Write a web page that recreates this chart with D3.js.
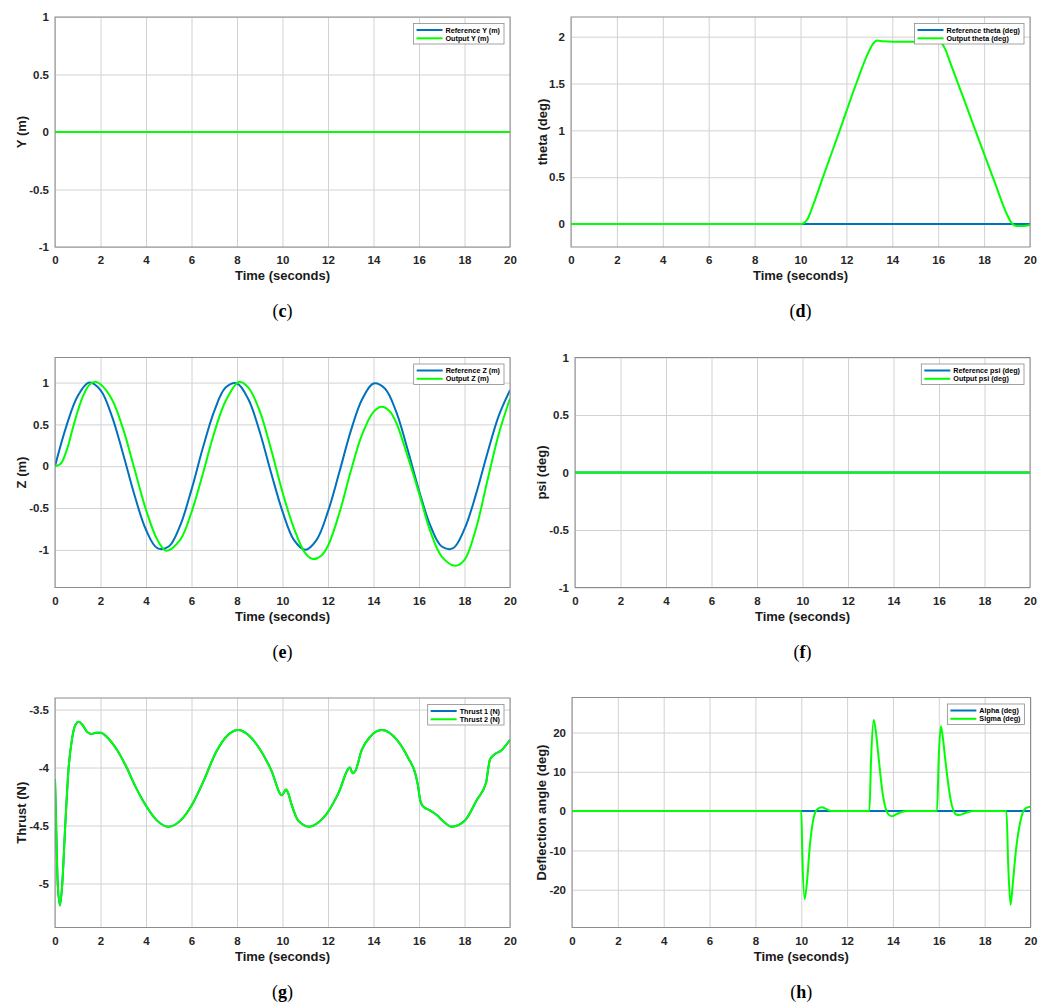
<!DOCTYPE html>
<html><head><meta charset="utf-8">
<script src="https://cdn.jsdelivr.net/npm/d3@7"></script>
<style>
body{margin:0;background:#fff;}
svg{display:block;}
.tick text{font-family:"Liberation Sans",Arial,sans-serif;font-weight:bold;font-size:11.5px;fill:#262626;}
</style></head>
<body>
<svg id="chart" width="1049" height="1005"></svg>
<script>
// ---------------- DATA ----------------
const xTicks = [0,2,4,6,8,10,12,14,16,18,20];

// (c) Y position
const refY_t = [0, 20], refY_v = [0, 0];
const outY_t = [0, 20], outY_v = [0, 0];

// (d) theta
const refTheta_t = [0, 20], refTheta_v = [0, 0];
const outTheta = [[0,0],[10.0,0],[10.1,0.005],[10.3,0.05],[10.5,0.17],[10.98,0.5],[11.71,1.0],[12.43,1.5],[12.9,1.8],[13.15,1.92],[13.35,1.958],[13.6,1.952],[14.5,1.946],[15.5,1.946],[16.0,1.948],[16.15,1.93],[16.3,1.87],[16.5,1.74],[17.5,1.08],[18.5,0.42],[19.0,0.1],[19.2,0.01],[19.4,-0.02],[19.7,-0.02],[20,-0.01]];

// (e) Z
const refZ_t = [0,0.5,1,1.5,2,2.5,3,3.5,4,4.5,5,5.5,6,6.5,7,7.5,8,8.5,9,9.5,10,10.5,11,11.5,12,12.5,13,13.5,14,14.5,15,15.5,16,16.5,17,17.5,18,18.5,19,19.5,20];
const refZ_v = [0,0.48,0.84,1.0,0.91,0.6,0.14,-0.35,-0.76,-0.98,-0.96,-0.71,-0.28,0.22,0.66,0.94,0.99,0.8,0.41,-0.08,-0.54,-0.88,-1.0,-0.88,-0.54,-0.07,0.42,0.8,0.99,0.93,0.65,0.2,-0.29,-0.71,-0.96,-0.98,-0.75,-0.34,0.15,0.6,0.91];
const outZ = [[0,0],[0.25,0.03],[0.5,0.18],[0.75,0.42],[1.0,0.66],[1.25,0.85],[1.5,0.97],[1.76,1.01],[2.0,0.98],[2.5,0.8],[3.0,0.44],[3.5,-0.04],[4.0,-0.52],[4.5,-0.88],[4.89,-1.01],[5.5,-0.88],[6.0,-0.55],[6.5,-0.09],[7.0,0.4],[7.5,0.78],[8.1,1.01],[8.5,0.94],[9.0,0.66],[9.5,0.2],[10.0,-0.31],[10.5,-0.74],[11.0,-1.04],[11.34,-1.11],[11.7,-1.07],[12.0,-0.95],[12.5,-0.56],[13.0,-0.06],[13.5,0.38],[14.0,0.65],[14.36,0.71],[14.7,0.66],[15.0,0.52],[15.5,0.12],[16.0,-0.32],[16.5,-0.78],[17.0,-1.08],[17.6,-1.19],[18.0,-1.12],[18.5,-0.75],[19.0,-0.18],[19.5,0.38],[20,0.81]];

// (f) psi
const refPsi_t = [0, 20], refPsi_v = [0, 0];
const outPsi_t = [0, 20], outPsi_v = [0, 0];

// (g) thrust
const thrust = [[0,-4.1],[0.05,-4.5],[0.12,-5.0],[0.22,-5.19],[0.32,-5.0],[0.45,-4.5],[0.6,-4.0],[0.75,-3.75],[0.9,-3.63],[1.05,-3.605],[1.2,-3.63],[1.4,-3.69],[1.6,-3.71],[1.8,-3.70],[2.0,-3.70],[2.3,-3.74],[2.7,-3.84],[3.15,-4.0],[3.5,-4.15],[4.0,-4.33],[4.5,-4.46],[4.98,-4.51],[5.5,-4.46],[6.0,-4.33],[6.5,-4.13],[7.1,-3.86],[7.6,-3.72],[8.06,-3.677],[8.5,-3.72],[9.0,-3.84],[9.5,-4.02],[9.98,-4.24],[10.15,-4.19],[10.25,-4.22],[10.4,-4.32],[10.7,-4.46],[11.18,-4.51],[11.6,-4.47],[11.94,-4.40],[12.45,-4.225],[12.97,-4.0],[13.08,-4.05],[13.2,-4.03],[13.48,-3.85],[13.85,-3.735],[14.36,-3.677],[15.02,-3.76],[15.53,-3.92],[15.85,-4.06],[15.95,-4.15],[16.05,-4.28],[16.16,-4.33],[16.48,-4.37],[16.78,-4.41],[17.1,-4.47],[17.44,-4.51],[18.02,-4.456],[18.54,-4.28],[18.95,-4.13],[19.05,-4.0],[19.12,-3.93],[19.3,-3.89],[19.63,-3.85],[20,-3.76]];

// (h) deflection angles
const alpha_t = [0, 20], alpha_v = [0, 0];
const sigma = [[0,0],[10.0,0],[10.05,-12],[10.15,-22.4],[10.25,-18],[10.37,-9.1],[10.52,-2.3],[10.67,0.3],[10.9,1.0],[11.1,0.5],[11.3,0],[12.97,0],[13.05,14],[13.16,23.2],[13.25,20.5],[13.34,15.6],[13.55,4.5],[13.77,-0.6],[13.94,-1.3],[14.15,-0.8],[14.35,-0.3],[14.6,0],[15.92,0],[16.0,14],[16.09,21.6],[16.18,18.5],[16.3,12.2],[16.52,2.8],[16.74,-0.8],[16.88,-1.0],[17.1,-0.6],[17.3,-0.2],[17.5,0],[18.95,0],[19.03,-14],[19.13,-23.8],[19.22,-19],[19.35,-10.8],[19.57,-2.3],[19.78,0.7],[20,1.1]];

const zip = (t, v) => t.map((d, i) => [d, v[i]]);

// ---------------- PANELS ----------------
const BLUE = "#0072BD", GREEN = "#00FF00";
const panels = [
  {cap:"c", box:[55,17,510,247], y:[-1,1], yt:[-1,-0.5,0,0.5,1], ylab:"Y (m)", yoff:29,
   series:[{d:zip(refY_t,refY_v),c:BLUE,n:"Reference Y (m)"},{d:zip(outY_t,outY_v),c:GREEN,n:"Output Y (m)"}]},
  {cap:"d", box:[571,17,1030,247], y:[-0.245,2.21], yt:[0,0.5,1,1.5,2], ylab:"theta (deg)", yoff:24,
   series:[{d:zip(refTheta_t,refTheta_v),c:BLUE,n:"Reference theta (deg)"},{d:outTheta,c:GREEN,n:"Output theta (deg)"}]},
  {cap:"e", box:[55,357.5,510,587.5], y:[-1.45,1.3], yt:[-1,-0.5,0,0.5,1], ylab:"Z (m)", yoff:29, curve:d3.curveCatmullRom,
   series:[{d:zip(refZ_t,refZ_v),c:BLUE,n:"Reference Z (m)"},{d:outZ,c:GREEN,n:"Output Z (m)"}]},
  {cap:"f", box:[575,357.5,1030,587.5], y:[-1,1], yt:[-1,-0.5,0,0.5,1], ylab:"psi (deg)", yoff:29,
   series:[{d:zip(refPsi_t,refPsi_v),c:BLUE,n:"Reference psi (deg)"},{d:zip(outPsi_t,outPsi_v),c:GREEN,n:"Output psi (deg)"}]},
  {cap:"g", box:[55,698,510,927.5], y:[-5.38,-3.4], yt:[-5,-4.5,-4,-3.5], ylab:"Thrust (N)", yoff:29,
   series:[{d:thrust,c:BLUE,n:"Thrust 1 (N)"},{d:thrust,c:GREEN,n:"Thrust 2 (N)"}]},
  {cap:"h", box:[572,697.5,1030.5,927.5], y:[-29.6,28.9], yt:[-20,-10,0,10,20], ylab:"Deflection angle (deg)", yoff:26,
   series:[{d:zip(alpha_t,alpha_v),c:BLUE,n:"Alpha (deg)"},{d:sigma,c:GREEN,n:"Sigma (deg)"}]}
];

const svg = d3.select("#chart");
svg.append("rect").attr("width",1049).attr("height",1005).attr("fill","#fff");

panels.forEach(p => {
  const [x0,y0,x1,y1] = p.box;
  const w = x1-x0, h = y1-y0;
  const g = svg.append("g").attr("transform",`translate(${x0},${y0})`);
  const x = d3.scaleLinear().domain([0,20]).range([0,w]);
  const y = d3.scaleLinear().domain(p.y).range([h,0]);

  // axes with grid
  const xa = g.append("g").attr("transform",`translate(0,${h})`)
    .call(d3.axisBottom(x).tickValues(xTicks).tickSize(-h).tickPadding(9).tickFormat(d=>String(d)));
  const ya = g.append("g")
    .call(d3.axisLeft(y).tickValues(p.yt).tickSize(-w).tickPadding(6).tickFormat(d=>String(d)));
  [xa,ya].forEach(a=>{
    a.select(".domain").remove();
    a.selectAll(".tick line").attr("stroke","#d2d2d2").attr("stroke-width",1);
  });

  // lines
  const line = d3.line().x(d=>x(d[0])).y(d=>y(d[1])).curve(p.curve || d3.curveMonotoneX);
  const clipId = "clip"+p.cap;
  g.append("clipPath").attr("id",clipId).append("rect").attr("width",w).attr("height",h);
  p.series.forEach(s => {
    g.append("path").datum(s.d).attr("d",line).attr("fill","none")
      .attr("stroke",s.c).attr("stroke-width",2).attr("clip-path",`url(#${clipId})`);
  });

  // box
  g.append("rect").attr("width",w).attr("height",h).attr("fill","none").attr("stroke","#8c8c8c").attr("stroke-width",1);

  // axis titles
  g.append("text").attr("x",w/2).attr("y",h+33).attr("text-anchor","middle")
    .style("font-family","'Liberation Sans',Arial,sans-serif").style("font-weight","bold").style("font-size","13px").attr("fill","#1a1a1a")
    .text("Time (seconds)");
  g.append("text").attr("transform",`translate(${-p.yoff},${h/2}) rotate(-90)`).attr("text-anchor","middle")
    .style("font-family","'Liberation Sans',Arial,sans-serif").style("font-weight","bold").style("font-size","13px").attr("fill","#1a1a1a")
    .text(p.ylab);

  // legend
  const lg = g.append("g");
  const texts = p.series.map((s,i) => lg.append("text").attr("y",6.5+i*8.3).attr("dy","0.35em")
    .style("font-family","'Liberation Sans',Arial,sans-serif").style("font-weight","bold").style("font-size","7.2px").attr("fill","#000").text(s.n));
  const tw = d3.max(texts, t => t.node().getComputedTextLength());
  const bw = 32 + tw + 4, bh = 20.5;
  const bx = w - 6 - bw, by = 6.5;
  lg.attr("transform",`translate(${bx},${by})`);
  lg.insert("rect",":first-child").attr("width",bw).attr("height",bh).attr("fill","#fff").attr("stroke","#8c8c8c").attr("stroke-width",0.8);
  p.series.forEach((s,i) => {
    lg.append("line").attr("x1",3).attr("x2",29).attr("y1",6.5+i*8.3).attr("y2",6.5+i*8.3).attr("stroke",s.c).attr("stroke-width",2);
  });
  texts.forEach(t => t.attr("x",32));

  // caption
  const cap = svg.append("text").attr("x",x0 + w/2).attr("y",y1+70).attr("text-anchor","middle")
    .style("font-family","'Liberation Serif','Times New Roman',serif").style("font-size","18px").attr("fill","#000");
  cap.append("tspan").text("(");
  cap.append("tspan").style("font-weight","bold").text(p.cap);
  cap.append("tspan").text(")");
});
</script>
</body></html>
